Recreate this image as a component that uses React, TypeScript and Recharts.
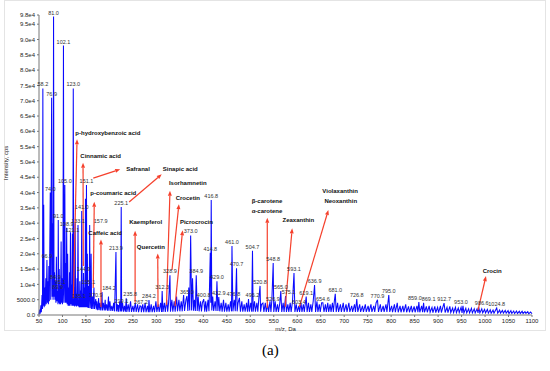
import { LineChart, Line, XAxis, YAxis, ReferenceLine, ReferenceDot, LabelList } from "recharts";

const FONT = "'Liberation Sans', Arial, Helvetica, sans-serif";
const BLUE = "#0a0aff";
const RED = "#f5402c";

// x / y ticks as printed on the spectrum
const X_TICKS = [50, 100, 150, 200, 250, 300, 350, 400, 450, 500, 550, 600, 650, 700, 750, 800, 850, 900, 950, 1000, 1050, 1100];
const Y_TICKS = [0, 5000, 10000, 15000, 20000, 25000, 30000, 35000, 40000, 45000, 50000, 55000, 60000, 65000, 70000, 75000, 80000, 85000, 90000, 95000, 98000];

// labelled peaks (m/z, intensity in cps)
const PEAK_MZ = [58.2, 66.9, 74.0, 76.9, 81.0, 84.9, 89.9, 91.0, 95.1, 102.1, 105.0, 108.9, 121.1, 123.0, 133.1, 135.1, 141.0, 144.9, 151.1, 155.1, 157.9, 170.9, 184.2, 213.9, 219.1, 225.1, 235.8, 267.2, 284.2, 312.3, 328.9, 365.0, 373.0, 384.9, 400.8, 414.8, 416.8, 429.0, 432.9, 461.0, 470.7, 476.8, 496.2, 504.7, 520.8, 526.9, 548.8, 565.0, 575.1, 593.1, 603.4, 619.1, 636.9, 654.6, 681.0, 726.8, 770.9, 795.0, 859.0, 869.1, 912.7, 953.0, 986.6, 1024.8];
const PEAK_INT = [74000, 18000, 40000, 71000, 97500, 11000, 7800, 31000, 9500, 88000, 42500, 28500, 26500, 74000, 29400, 5000, 34000, 13700, 42500, 9500, 29400, 5200, 7500, 20600, 3300, 35300, 5500, 2800, 4900, 7800, 13000, 6200, 26000, 13000, 5200, 20300, 37600, 11000, 5900, 22500, 15300, 5600, 5200, 21000, 9500, 3900, 17000, 7800, 6200, 13700, 3000, 6000, 9800, 4000, 6900, 5200, 5000, 6500, 4200, 4000, 3900, 3000, 2500, 2300];

// peak labels that sit beside their peak (px)
const LABEL_SHIFT: Record<string, number> = {
  "157.9": 11, "184.2": 7, "235.8": 4, "219.1": 3, "476.8": -6, "496.2": 4, "526.9": 10, "859.0": -4, "869.1": 5, "575.1": 3, "953.0": -2, "986.6": 3,
};

// unlabelled profile: noise band, valleys and smaller peaks
const TRACE: [number, number][] = [
  [50, 200], [51.5, 1800], [52.5, 400], [54, 3200], [55, 900], [56.5, 6500], [57.5, 2000], [59, 3000], [60, 36000], [61, 2500],
  [62, 9000], [63, 3000], [64.5, 12000], [65.5, 3500], [68, 4000], [69, 11000], [70, 3500], [71, 16000], [72, 4500], [75, 5000],
  [78, 6000], [79, 30000], [80, 5000], [82, 6000], [83, 14000], [84, 5000], [86, 4000], [87, 19000], [88, 4500], [90.4, 3500],
  [92, 4000], [93, 15000], [94, 3500], [96, 3500], [97.1, 24000], [98, 4000], [99, 12000], [100, 3500], [101, 8000], [103, 4000],
  [104, 12000], [106, 4000], [107, 17000], [108, 4000], [110, 3500], [111, 20000], [112, 3000], [113, 9000], [114, 3000], [115, 14000],
  [116, 3000], [117, 27000], [118, 3500], [119, 10000], [120, 3000], [122, 3000], [124, 3000], [125, 9000], [126, 2800], [127, 30000],
  [128, 3000], [129, 7000], [130, 2800], [131, 12000], [132, 3000], [134, 2800], [136, 2500], [137, 11000], [138, 2500], [139, 8000],
  [140, 2500], [142, 2500], [143, 7000], [144, 2500], [146, 2500], [147, 9000], [148, 2500], [149, 38000], [150, 2500], [152, 2500],
  [153, 20000], [154, 2400], [156, 2300], [157, 6000], [159, 2200], [160, 5000], [161, 20000], [162, 2000], [164, 6000], [165, 2000],
  [167, 9000], [168, 2000], [172, 1800], [173, 4500], [175, 1600], [177, 5500], [178, 1600], [180, 4000], [181.5, 1500], [183, 3500],
  [185, 1500], [187, 4000], [189, 1500], [191, 5000], [192, 1500], [194, 3500], [196, 1400], [198, 6000], [199, 1400], [201, 4500],
  [203, 1300], [205, 3000], [207, 1300], [209, 4000], [211, 1200], [215, 1200], [217, 3500], [218.5, 1100], [220, 1100], [222, 4500],
  [224, 1200], [226, 1200], [228, 4000], [230, 1100], [232, 3000], [234, 1100], [237, 1000], [240, 3500], [242, 1000], [245, 4500],
  [247, 1000], [250, 3000], [252, 1000], [255, 4000], [257, 1000], [260, 3500], [262, 900], [265, 3000], [268, 900], [271, 3500],
  [273, 900], [276, 4000], [278, 900], [281, 3000], [283, 900], [286, 900], [289, 3500], [291, 900], [294, 3000], [296, 900],
  [299, 4500], [301, 1000], [304, 3500], [306, 1000], [309, 4000], [311, 1000], [314, 1000], [317, 4000], [319, 1000], [322, 5000],
  [324, 1100], [326, 4000], [330, 1100], [333, 5000], [335, 1100], [338, 4500], [340, 1100], [343, 6000], [345, 1200], [348, 5000],
  [350, 1200], [353, 4500], [355, 1200], [358, 6500], [360, 1300], [363, 5000], [367, 1300], [369, 9000], [371, 1500], [375, 1500],
  [377, 12000], [379, 1400], [381, 5000], [383, 1300], [387, 1300], [389, 6000], [391, 1200], [394, 4500], [396, 1200], [398, 4000],
  [403, 1100], [405, 4500], [407, 1100], [410, 5000], [412, 1200], [415.8, 4000], [418, 1500], [420, 6000], [422, 1300], [425, 4500],
  [427, 1300], [431, 1300], [435, 1200], [438, 4000], [440, 1100], [443, 5000], [445, 1100], [448, 4000], [450, 1100], [453, 3500],
  [455, 1100], [458, 4500], [460, 1200], [463, 1200], [466, 5000], [468, 1200], [472, 1200], [474, 4000], [479, 1100], [482, 4500],
  [484, 1100], [487, 3500], [489, 1100], [492, 4000], [494, 1100], [498, 1100], [501, 4000], [503, 1100], [506, 1100], [509, 4500],
  [511, 1100], [514, 4000], [516, 1100], [518, 5000], [522, 1100], [524, 3500], [529, 1000], [532, 4000], [534, 1000], [537, 3500],
  [539, 1000], [542, 4500], [544, 1000], [546, 5000], [550, 1000], [553, 4500], [555, 1000], [558, 3500], [560, 1000], [563, 4000],
  [567, 1000], [570, 4000], [572, 1000], [577, 1000], [580, 3500], [582, 1000], [585, 4000], [587, 1000], [590, 4500], [595, 1000],
  [598, 3500], [600, 1000], [605, 1000], [608, 4000], [610, 1000], [613, 3500], [615, 1000], [621, 1000], [624, 4000], [626, 1000],
  [629, 3500], [631, 1000], [634, 4500], [639, 1000], [642, 4500], [644, 1000], [647, 3500], [649, 1000], [652, 4000], [657, 1000],
  [660, 3500], [662, 1000], [665, 4000], [667, 1000], [670, 3500], [672, 1000], [675, 4000], [677, 1000], [679, 4500], [683, 1000],
  [686, 4000], [688, 1000], [692, 3500], [694, 1000], [698, 4000], [700, 1000], [704, 3500], [706, 1000], [710, 4000], [712, 1000],
  [716, 3000], [718, 1000], [722, 3500], [724, 1000], [729, 1000], [733, 3500], [735, 1000], [739, 3000], [741, 1000], [745, 3500],
  [747, 1000], [751, 3000], [753, 1000], [757, 3500], [759, 1000], [763, 3000], [765, 1000], [768, 4000], [773, 1000], [777, 3500],
  [779, 1000], [783, 3000], [785, 1000], [789, 3500], [791, 1000], [797, 1000], [801, 3000], [803, 900], [807, 3500], [809, 900],
  [813, 4000], [815, 900], [819, 3000], [821, 900], [825, 3000], [827, 900], [831, 3500], [833, 900], [837, 2800], [839, 900],
  [843, 3000], [845, 900], [849, 2800], [851, 900], [855, 3000], [857, 900], [861, 900], [865, 3000], [867, 900], [871, 900],
  [875, 2800], [877, 900], [881, 3000], [883, 900], [887, 2500], [889, 800], [893, 2800], [895, 800], [899, 2500], [901, 800],
  [905, 3000], [907, 800], [910, 2500], [915, 800], [919, 2500], [921, 800], [925, 2800], [927, 800], [931, 2300], [933, 800],
  [937, 2500], [939, 800], [943, 2300], [945, 800], [949, 2500], [951, 700], [955, 700], [959, 2200], [961, 700], [965, 2000],
  [967, 700], [971, 2200], [973, 700], [977, 2000], [979, 700], [983, 2000], [985, 700], [989, 700], [993, 2000], [995, 700],
  [999, 1800], [1001, 700], [1005, 1800], [1007, 600], [1011, 1700], [1013, 600], [1017, 1600], [1019, 600], [1022, 1500], [1027, 600],
  [1031, 1600], [1033, 600], [1037, 1500], [1039, 600], [1043, 1500], [1045, 600], [1049, 1400], [1051, 500], [1055, 1400], [1057, 500],
  [1061, 1300], [1063, 500], [1067, 1300], [1069, 500], [1073, 1200], [1075, 500], [1079, 1200], [1081, 500], [1085, 1100], [1087, 500],
  [1091, 1100], [1093, 400], [1097, 1000], [1100, 400],
];

// compound annotations: arrow tail -> head, in (m/z, cps)
const ARROWS = [
  { tail: [123.2, 5500], head: [131, 57400] },
  { tail: [144.4, 16000], head: [143.8, 49700] },
  { tail: [165.6, 44700], head: [222.9, 47600] },
  { tail: [242, 36900], head: [311.4, 46000] },
  { tail: [165.6, 8800], head: [167.7, 37000] },
  { tail: [182, 2600], head: [182, 24700] },
  { tail: [254.7, 4200], head: [254.7, 27500] },
  { tail: [303.5, 2600], head: [302.9, 20100] },
  { tail: [321.5, 3200], head: [329, 40600] },
  { tail: [333.2, 14700], head: [348, 36200] },
  { tail: [339.6, 2900], head: [355.9, 27700] },
  { tail: [536.2, 2300], head: [536.2, 31800] },
  { tail: [574.4, 2700], head: [589.2, 28300] },
  { tail: [604.7, 2700], head: [666.3, 34300] },
  { tail: [985, 1600], head: [1002, 12700] },
];

const COMPOUNDS = [
  { name: "p-hydroxybenzoic acid", at: [127.4, 59400] },
  { name: "Cinnamic acid", at: [138, 51900] },
  { name: "Safranal", at: [235.6, 47700] },
  { name: "Sinapic acid", at: [313.5, 47700] },
  { name: "p-coumaric acid", at: [159.2, 39900] },
  { name: "Caffeic acid", at: [155, 26900] },
  { name: "Kaempferol", at: [242, 30400] },
  { name: "Quercetin", at: [258.3, 22100] },
  { name: "Isorhamnetin", at: [326.8, 43000] },
  { name: "Crocetin", at: [341, 38100] },
  { name: "Picrocrocin", at: [350.2, 30300] },
  { name: "β-carotene", at: [502.9, 37200] },
  { name: "α-carotene", at: [502.9, 34100] },
  { name: "Zeaxanthin", at: [568.7, 31000] },
  { name: "Violaxanthin", at: [653.5, 40600] },
  { name: "Neoxanthin", at: [657.8, 37200] },
  { name: "Crocin", at: [995, 14500] },
];

const spectrum = [
  ...TRACE.map(([mz, intensity]) => ({ mz, intensity })),
  ...PEAK_MZ.map((mz, i) => ({ mz, intensity: PEAK_INT[i], tag: mz.toFixed(1) })),
].sort((a, b) => a.mz - b.mz);

const fmtY = (v: number) => (v === 0 ? "0.0" : v === 5000 ? "5000.0" : (v / 10000).toFixed(1) + "e4");

function Arrow(p: any) {
  const { x1, y1, x2, y2 } = p;
  const a = Math.atan2(y2 - y1, x2 - x1);
  const bx = x2 - 5 * Math.cos(a);
  const by = y2 - 5 * Math.sin(a);
  const px = -Math.sin(a) * 2;
  const py = Math.cos(a) * 2;
  return (
    <g>
      <line x1={x1} y1={y1} x2={bx} y2={by} stroke={RED} strokeWidth={1.2} />
      <polygon points={`${x2},${y2} ${bx + px},${by + py} ${bx - px},${by - py}`} fill={RED} />
    </g>
  );
}

function PeakLabel(p: any) {
  if (p.value == null || p.value === "") return null;
  const vb = p.viewBox || {};
  const x = (vb.x ?? p.x) + (LABEL_SHIFT[p.value] ?? 0);
  const y = (vb.y ?? p.y) - 2;
  return (
    <text x={x} y={y} textAnchor="middle" fontSize={5.5} fill="#333" fontFamily={FONT}>
      {p.value}
    </text>
  );
}

export default function App() {
  return (
    <div style={{ position: "absolute", left: 0, top: 0, width: 550, height: 371, background: "#fff", fontFamily: FONT }}>
      <div style={{ position: "absolute", left: 4, top: 0, width: 540, height: 329, border: "1px solid #e4e4e4" }} />
      <div style={{ position: "absolute", left: 0, top: 0 }}>
        <LineChart width={550} height={340} data={spectrum} margin={{ top: 15, right: 18, bottom: 9, left: 0 }}>
          <XAxis
            type="number"
            dataKey="mz"
            domain={[50, 1100]}
            ticks={X_TICKS}
            interval={0}
            tickSize={2}
            tick={{ fontSize: 6, fill: "#222", fontFamily: FONT }}
            stroke="#777"
            height={16}
            label={{ value: "m/z, Da", position: "insideBottom", offset: 0, fontSize: 6, fill: "#222", fontFamily: FONT }}
          />
          <YAxis
            type="number"
            domain={[0, 98000]}
            ticks={Y_TICKS}
            interval={0}
            tickFormatter={fmtY}
            tickSize={2}
            width={39}
            tick={{ fontSize: 6, fill: "#222", fontFamily: FONT }}
            stroke="#777"
            label={() => (
              <text x={8} y={163} transform="rotate(-90 8 163)" textAnchor="middle" fontSize={6} fill="#222" fontFamily={FONT}>
                Intensity, cps
              </text>
            )}
          />
          <Line
            type="linear"
            dataKey="intensity"
            stroke={BLUE}
            strokeWidth={1.05}
            dot={false}
            isAnimationActive={false}
          >
            <LabelList dataKey="tag" content={PeakLabel} />
          </Line>
          {ARROWS.map((a, i) => (
            <ReferenceLine
              key={"a" + i}
              segment={[{ x: a.tail[0], y: a.tail[1] }, { x: a.head[0], y: a.head[1] }]}
              ifOverflow="visible"
              shape={Arrow}
            />
          ))}
          {COMPOUNDS.map((c) => (
            <ReferenceDot
              key={c.name}
              x={c.at[0]}
              y={c.at[1]}
              r={0}
              ifOverflow="visible"
              shape={(p: any) => (
                <text x={p.cx} y={p.cy} dy="0.35em" fontSize={6} fontWeight="bold" fill="#111" fontFamily={FONT}>
                  {c.name}
                </text>
              )}
            />
          ))}
        </LineChart>
      </div>
      <div style={{ position: "absolute", left: 262, top: 342, fontFamily: "'Liberation Serif', 'Times New Roman', serif", fontSize: 15 }}>
        (a)
      </div>
    </div>
  );
}
